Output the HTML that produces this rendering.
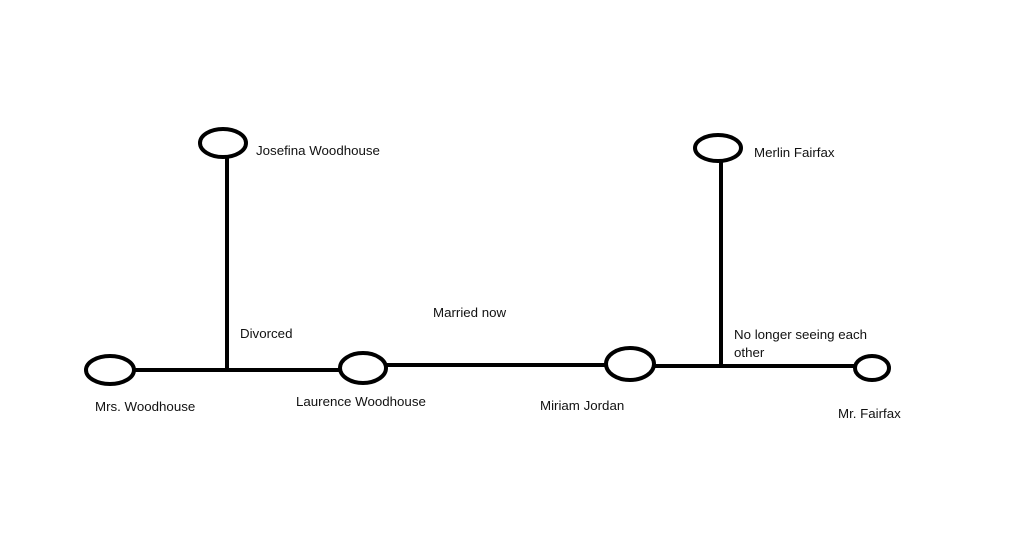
<!DOCTYPE html>
<html><head><meta charset="utf-8"><style>
html,body{margin:0;padding:0;background:#fff;}
svg{display:block;}
text{font-family:"Liberation Sans",sans-serif;font-size:13.3px;fill:#111;}
</style></head><body>
<svg width="1023" height="549" viewBox="0 0 1023 549" xmlns="http://www.w3.org/2000/svg">
<rect width="1023" height="549" fill="#fff"/>
<g stroke="#000" stroke-width="4" fill="none">
<line x1="227" y1="157" x2="227" y2="371"/>
<line x1="134" y1="370" x2="340" y2="370"/>
<line x1="386" y1="365" x2="606" y2="365"/>
<line x1="654" y1="366" x2="856" y2="366"/>
<line x1="721" y1="161" x2="721" y2="367"/>
<ellipse cx="223" cy="143" rx="23" ry="14"/>
<ellipse cx="110" cy="370" rx="24" ry="14"/>
<ellipse cx="363" cy="368" rx="23" ry="15"/>
<ellipse cx="630" cy="364" rx="24" ry="16"/>
<ellipse cx="872" cy="368" rx="17" ry="12"/>
<ellipse cx="718" cy="148" rx="23" ry="13"/>
</g>
<text x="256" y="155">Josefina Woodhouse</text>
<text x="240" y="338">Divorced</text>
<text x="95" y="411">Mrs. Woodhouse</text>
<text x="296" y="406">Laurence Woodhouse</text>
<text x="433" y="317">Married now</text>
<text x="540" y="410">Miriam Jordan</text>
<text x="754" y="157">Merlin Fairfax</text>
<text x="734" y="339">No longer seeing each</text>
<text x="734" y="357">other</text>
<text x="838" y="418">Mr. Fairfax</text>
</svg>
</body></html>
